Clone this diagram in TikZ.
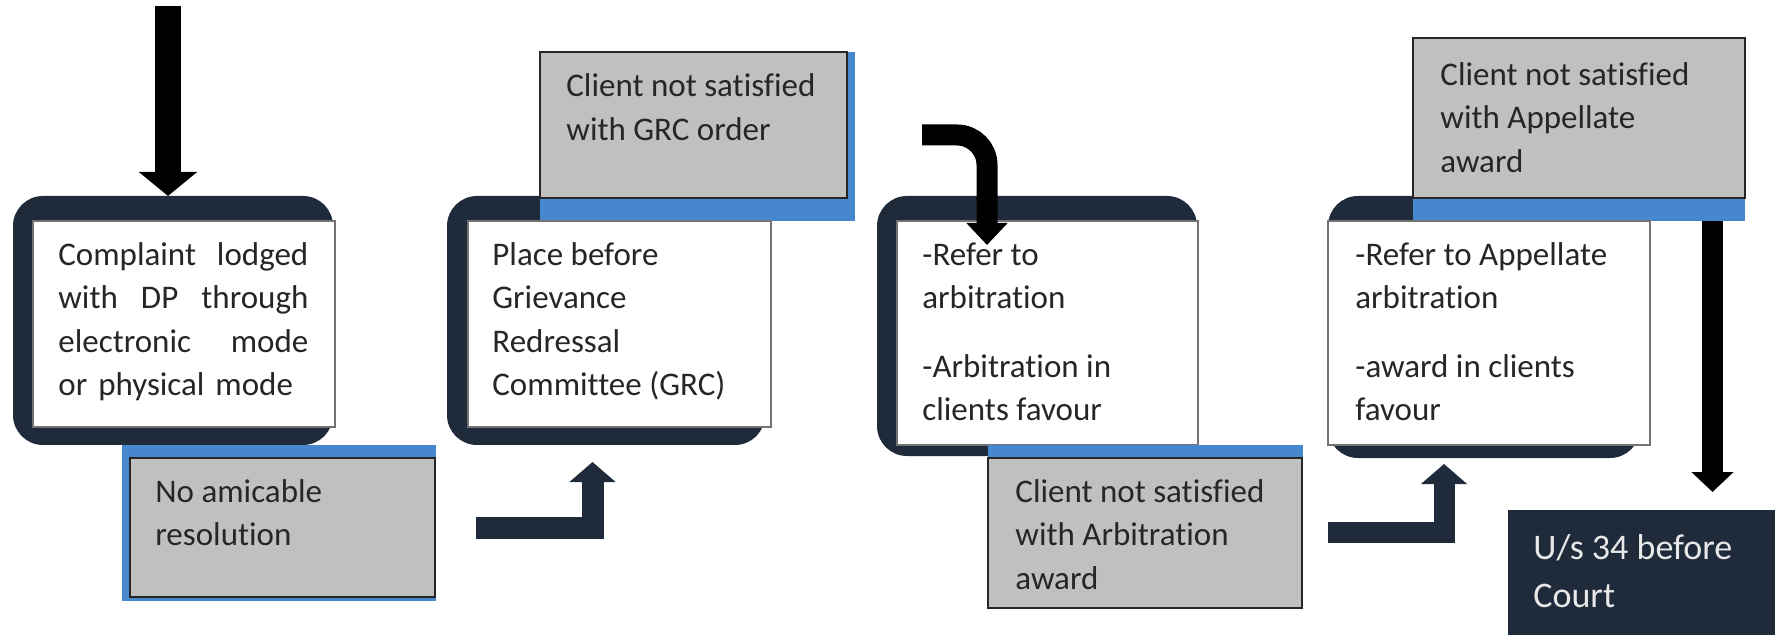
\documentclass[tikz,border=0pt]{standalone}
\usepackage{fontspec}
\setmainfont[Ligatures=NoCommon]{Carlito}
\usetikzlibrary{arrows.meta}
\definecolor{navy}{HTML}{1F2B3B}
\definecolor{bandblue}{HTML}{4687CD}
\definecolor{boxgray}{HTML}{C0C0C0}
\definecolor{txtcol}{HTML}{262626}
\definecolor{lighttxt}{HTML}{E8E8E8}
\begin{document}
\begin{tikzpicture}[x=0.5pt,y=-0.5pt,
  box/.style={anchor=north west, inner sep=0pt, outer sep=0pt},
  darkbox/.style={box, fill=navy, rounded corners=15pt},
  whitebox/.style={box, fill=white, draw=black!55, line width=0.6pt},
  graybox/.style={box, fill=boxgray, draw=black!85, line width=0.7pt},
  bluebox/.style={box, fill=bandblue},
  courtbox/.style={box, fill=navy},
  lbl/.style={anchor=north west, inner sep=0pt, align=left, text=txtcol,
    font=\fontsize{16.5pt}{21.75pt}\selectfont},
  bigarrow/.style={line cap=butt, line join=miter},
]
\fill[white] (0,0) rectangle (1775,635);
\useasboundingbox (0,0) rectangle (1775,635);

% ---- stage 1
\node[darkbox, minimum width=160pt, minimum height=124.5pt] (d1) at (13,196) {};
\node[whitebox, minimum width=151pt, minimum height=103pt] (w1) at (33,221) {};
\node[lbl, text width=125pt] (t1) at (58,234.5)
  {\strut Complaint\hfill lodged\\with\hfill DP\hfill through\\electronic\hfill mode\\or physical mode};
\node[bluebox, minimum width=157pt, minimum height=78pt] (b1) at (122,445) {};
\node[graybox, minimum width=152.5pt, minimum height=69.5pt] (g1) at (130,458) {};
\node[lbl] (tg1) at (155,471.5) {\strut No amicable\\resolution};

% ---- stage 2
\node[darkbox, minimum width=159pt, minimum height=124.5pt] (d2) at (447,196) {};
\node[bluebox, minimum width=157.5pt, minimum height=84.5pt] (b2) at (540,52) {};
\node[graybox, minimum width=153.5pt, minimum height=73pt] (g2) at (540,52) {};
\node[lbl] (tg2) at (566,66) {\strut Client not satisfied\\with GRC order};
\node[whitebox, minimum width=151.5pt, minimum height=103pt] (w2) at (468,221) {};
\node[lbl] (t2) at (492,234.5) {\strut Place before\\Grievance\\Redressal\\Committee (GRC)};

% ---- stage 3
\node[darkbox, minimum width=160pt, minimum height=130pt] (d3) at (877,196) {};
\node[whitebox, minimum width=150.5pt, minimum height=112pt] (w3) at (897,221) {};
\node[lbl] (t3) at (922,234.5) {\strut -Refer to\\arbitration\\[12.5pt]-Arbitration in\\clients favour};
\node[bluebox, minimum width=157.5pt, minimum height=77.5pt] (b3) at (988,445) {};
\node[graybox, minimum width=157pt, minimum height=75pt] (g3) at (988,458) {};
\node[lbl] (tg3) at (1015,471.5) {\strut Client not satisfied\\with Arbitration\\award};

% ---- stage 4
\node[darkbox, minimum width=156pt, minimum height=131pt] (d4) at (1328,196) {};
\node[bluebox, minimum width=166pt, minimum height=91.5pt] (b4) at (1413,38) {};
\node[graybox, minimum width=166pt, minimum height=80pt] (g4) at (1413,38) {};
\node[lbl] (tg4) at (1440,54.5) {\strut Client not satisfied\\with Appellate\\award};
\node[whitebox, minimum width=161pt, minimum height=112pt] (w4) at (1328,221) {};
\node[lbl] (t4) at (1355,234.5) {\strut -Refer to Appellate\\arbitration\\[12.5pt]-award in clients\\favour};

% ---- court
\node[courtbox, minimum width=133.5pt, minimum height=62.5pt] (us) at (1508,510) {};
\node[lbl, text=lighttxt, font=\fontsize{18pt}{24pt}\selectfont] (tus) at (1533,525.4) {\strut U/s 34 before\\Court};

% ---- arrows
\coordinate (a1s) at (168,6);
\draw[bigarrow, black, line width=13pt, -{Triangle[width=28.5pt,length=12pt]}]
  (a1s) -- (a1s |- d1.north);

\coordinate (a2s) at (476,527.5);
\coordinate (a2e) at (592.5,462);
\draw[bigarrow, navy, line width=11pt, -{Triangle[width=22.5pt,length=10pt]}]
  (a2s) -| (a2e);

\coordinate (a3s) at (922,135);
\coordinate (a3e) at (987,245);
\draw[bigarrow, black, line width=10.5pt, rounded corners=15pt, -{Triangle[width=20pt,length=11pt]}]
  (a3s) -| (a3e);

\coordinate (a4s) at (1328,532.5);
\coordinate (a4e) at (1444,464);
\draw[bigarrow, navy, line width=10.5pt, -{Triangle[width=22.5pt,length=10pt]}]
  (a4s) -| (a4e);

\coordinate (a5x) at (1712.5,0);
\draw[bigarrow, black, line width=10.5pt, shorten >=9pt, -{Triangle[width=20.5pt,length=10pt]}]
  (b4.south -| a5x) -- (us.north -| a5x);
\end{tikzpicture}
\end{document}
